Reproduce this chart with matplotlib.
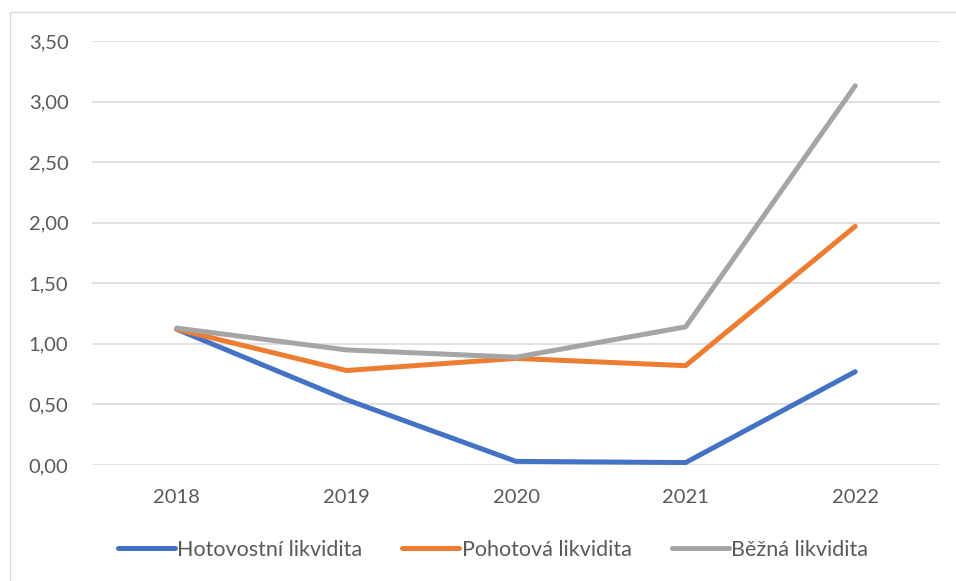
import matplotlib.pyplot as plt
from matplotlib.patches import Rectangle
from matplotlib.ticker import FuncFormatter

plt.rcParams['font.family'] = ['Lato', 'DejaVu Sans']

# Data
years = ['2018', '2019', '2020', '2021', '2022']
hotovostni = [1.12, 0.54, 0.03, 0.02, 0.77]
pohotova = [1.12, 0.78, 0.88, 0.82, 1.97]
bezna = [1.13, 0.95, 0.89, 1.14, 3.13]

series_names = ['Hotovostní likvidita', 'Pohotová likvidita', 'Běžná likvidita']
colors = ['#4472C4', '#ED7D31', '#A5A5A5']

fig = plt.figure(figsize=(9.56, 5.81), dpi=100)
ax = fig.add_axes([92 / 956, 1 - 465 / 581, (940 - 92) / 956, (465 - 41) / 581])

x = list(range(len(years)))
for values, name, color in zip([hotovostni, pohotova, bezna], series_names, colors):
    ax.plot(x, values, color=color, linewidth=3.6, label=name,
            solid_capstyle='round', solid_joinstyle='round')

ax.set_xlim(-0.5, len(years) - 0.5)
ax.set_ylim(0, 3.5)
ax.set_yticks([i * 0.5 for i in range(8)])
ax.yaxis.set_major_formatter(FuncFormatter(lambda v, p: f'{v:.2f}'.replace('.', ',')))
ax.set_xticks(x)
ax.set_xticklabels(years)

ax.grid(axis='y', color='#D9D9D9', linewidth=1.1)
ax.set_axisbelow(True)
for s in ax.spines.values():
    s.set_visible(False)
ax.tick_params(axis='both', length=0, labelsize=14.5, colors='#595959')
ax.tick_params(axis='y', pad=17)
ax.tick_params(axis='x', pad=17)

leg = fig.legend(loc='center', bbox_to_anchor=(493 / 956, 1 - 550 / 581), ncol=3,
                 frameon=False, fontsize=15.5, handlelength=2.65, handletextpad=0.12,
                 columnspacing=1.85)
for t in leg.get_texts():
    t.set_color('#595959')

# light chart border like the Excel export
fig.patches.append(Rectangle((10 / 956, -0.05), 1.2, 1.05 - 12.5 / 581,
                             transform=fig.transFigure, fill=False,
                             edgecolor='#D9D9D9', linewidth=1.0))

fig.savefig('out.png', dpi=100)
